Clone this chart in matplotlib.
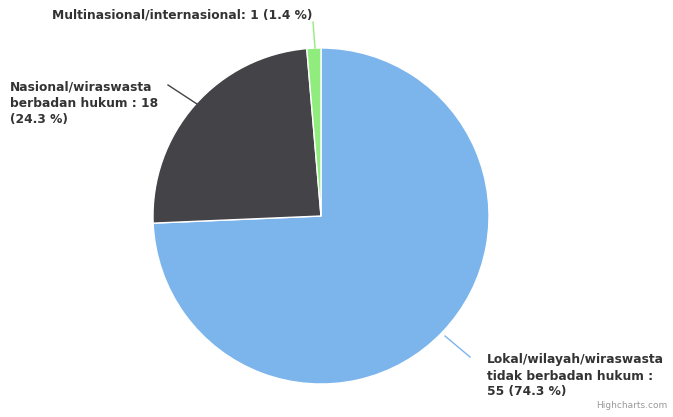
import matplotlib
matplotlib.use("Agg")
import matplotlib.pyplot as plt

W, H = 673, 417

labels = [
    "Lokal/wilayah/wiraswasta\ntidak berbadan hukum :\n55 (74.3 %)",
    "Nasional/wiraswasta\nberbadan hukum : 18\n(24.3 %)",
    "Multinasional/internasional: 1 (1.4 %)",
]
values = [55, 18, 1]
colors = ["#7cb5ec", "#434348", "#90ed7d"]


def px(x, y):
    # pixel coords (top-left origin) -> axes data coords
    return x, H - y


fig = plt.figure(figsize=(W / 100, H / 100), dpi=100)
ax = fig.add_axes([0, 0, 1, 1])

cx, cy = px(321, 216)
ax.pie(values, colors=colors, startangle=90, counterclock=False,
       center=(cx, cy), radius=168, frame=True,
       wedgeprops=dict(edgecolor="white", linewidth=1))
ax.set_xlim(0, W)
ax.set_ylim(0, H)
ax.set_aspect("equal")
ax.axis("off")

txt = dict(fontsize=8.8, fontweight="bold", color="#333333", linespacing=1.3)

# leader lines
leaders = [
    ((445, 336), (470, 357), colors[0]),
    ((197, 104), (168, 85), colors[1]),
    ((315, 48), (313, 22), colors[2]),
]
for (x0, y0), (x1, y1), c in leaders:
    ax.plot([px(x0, y0)[0], px(x1, y1)[0]], [px(x0, y0)[1], px(x1, y1)[1]],
            color=c, lw=1)

ax.text(*px(487, 376), labels[0], ha="left", va="center", **txt)
ax.text(*px(10, 103), labels[1], ha="left", va="center", **txt)
ax.text(*px(312, 15), labels[2], ha="right", va="center", **txt)

ax.text(*px(667, 406), "Highcharts.com", ha="right", va="center",
        fontsize=6.5, color="#999999")

fig.savefig("out.png", dpi=100)
